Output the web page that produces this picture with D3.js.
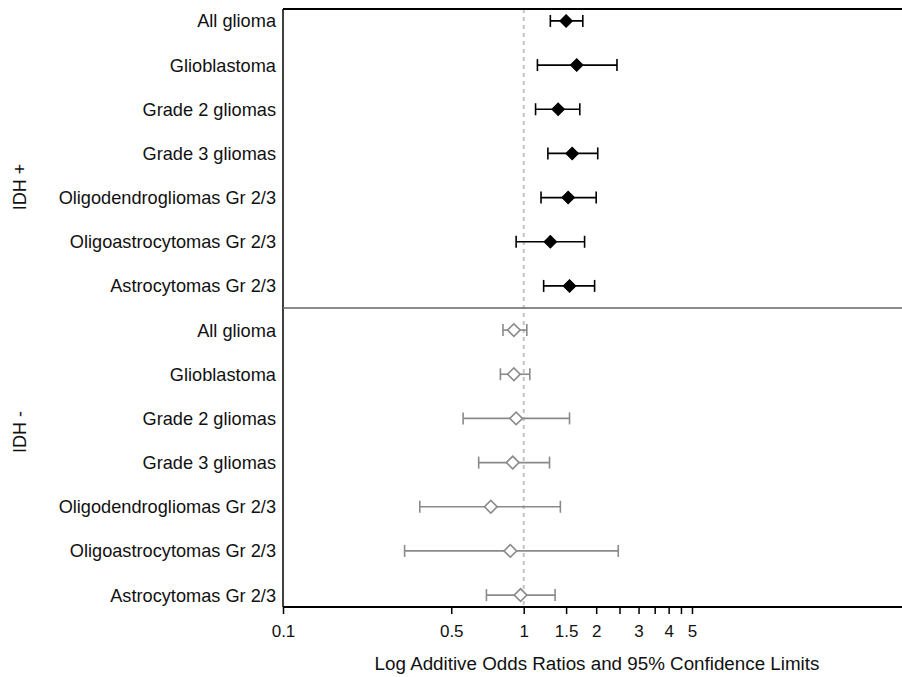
<!DOCTYPE html>
<html>
<head>
<meta charset="utf-8">
<script src="https://cdn.jsdelivr.net/npm/d3@7"></script>
<style>
  body { margin: 0; background: #fff; }
  svg { display: block; font-family: "Liberation Sans", Arial, sans-serif; }
</style>
</head>
<body>
<svg id="chart" width="902" height="677"></svg>
<script>
// Subtype labels, same order in both panels
const subtypes = ["All glioma", "Glioblastoma", "Grade 2 gliomas", "Grade 3 gliomas",
  "Oligodendrogliomas Gr 2/3", "Oligoastrocytomas Gr 2/3", "Astrocytomas Gr 2/3"];

// IDH mutated (+): odds ratio, lower and upper 95% limits
const idhPosOR    = [1.50, 1.66, 1.39, 1.59, 1.53, 1.29, 1.55];
const idhPosLower = [1.29, 1.14, 1.12, 1.26, 1.18, 0.93, 1.21];
const idhPosUpper = [1.76, 2.44, 1.71, 2.03, 2.00, 1.79, 1.97];

// IDH wild type (-)
const idhNegOR    = [0.91, 0.91, 0.93, 0.90, 0.73, 0.88, 0.97];
const idhNegLower = [0.82, 0.80, 0.56, 0.65, 0.37, 0.32, 0.70];
const idhNegUpper = [1.03, 1.06, 1.55, 1.28, 1.42, 2.47, 1.35];

const tickValues = [0.1, 0.5, 1, 1.5, 2, 2.5, 3, 3.5, 4, 4.5, 5];
const tickLabels = ["0.1", "0.5", "1", "1.5", "2", "", "3", "", "4", "", "5"];

const groups = [
  { key: "pos", label: "IDH +", or: idhPosOR, lo: idhPosLower, hi: idhPosUpper },
  { key: "neg", label: "IDH -", or: idhNegOR, lo: idhNegLower, hi: idhNegUpper }
];

const rows = [];
groups.forEach(g => {
  subtypes.forEach((s, i) => {
    rows.push({ id: g.key + i, group: g.key, label: s, or: g.or[i], lo: g.lo[i], hi: g.hi[i] });
  });
});

const plotLeft = 283, plotRight = 904, plotTop = 9, plotBottom = 607;

const svg = d3.select("#chart");

const x = d3.scaleLog()
  .domain([0.1, 38])
  .range([plotLeft, plotRight]);

const y = d3.scalePoint()
  .domain(rows.map(d => d.id))
  .range([plotTop, plotBottom])
  .padding(0.27);

// Reference line at OR = 1
svg.append("line")
  .attr("x1", x(1)).attr("x2", x(1))
  .attr("y1", plotTop).attr("y2", plotBottom)
  .attr("stroke", "#c4c4c4")
  .attr("stroke-width", 2)
  .attr("stroke-dasharray", "4,4");

// Frame
svg.append("line")
  .attr("x1", plotLeft).attr("x2", plotRight)
  .attr("y1", plotTop).attr("y2", plotTop)
  .attr("stroke", "#000").attr("stroke-width", 2);
svg.append("line")
  .attr("x1", plotLeft).attr("x2", plotLeft)
  .attr("y1", plotTop).attr("y2", plotBottom)
  .attr("stroke", "#000").attr("stroke-width", 1.5);

// Divider between panels
const divY = (y("pos6") + y("neg0")) / 2;
svg.append("line")
  .attr("x1", plotLeft).attr("x2", plotRight)
  .attr("y1", divY).attr("y2", divY)
  .attr("stroke", "#666").attr("stroke-width", 1.5);

// Bottom axis
const xAxis = svg.append("g")
  .attr("transform", `translate(0,${plotBottom})`)
  .call(d3.axisBottom(x)
    .tickValues(tickValues)
    .tickFormat((d, i) => tickLabels[i])
    .tickSize(7)
    .tickPadding(11));
xAxis.select(".domain").attr("stroke", "#000").attr("stroke-width", 2).attr("d", `M${plotLeft},0H${plotRight}`);
xAxis.selectAll(".tick line").attr("stroke", "#000").attr("stroke-width", 1.5);
xAxis.selectAll(".tick text")
  .attr("font-size", 17)
  .attr("font-family", "Liberation Sans, Arial, sans-serif")
  .attr("fill", "#111");

svg.append("text")
  .attr("x", (373 + 821) / 2)
  .attr("y", 670)
  .attr("text-anchor", "middle")
  .attr("font-size", 18.8)
  .attr("fill", "#111")
  .text("Log Additive Odds Ratios and 95% Confidence Limits");

// Row labels
svg.append("g").selectAll("text")
  .data(rows)
  .join("text")
  .attr("x", 276)
  .attr("y", d => y(d.id))
  .attr("dy", "0.36em")
  .attr("text-anchor", "end")
  .attr("font-size", 18.2)
  .attr("fill", "#111")
  .text(d => d.label);

// Panel labels
const panelY = { pos: 187, neg: 432 };
groups.forEach(g => {
  svg.append("text")
    .attr("transform", `translate(26,${panelY[g.key]}) rotate(-90)`)
    .attr("text-anchor", "middle")
    .attr("font-size", 18)
    .attr("fill", "#111")
    .text(g.label);
});

// Confidence intervals
const colorOf = d => d.group === "pos" ? "#000" : "#8a8a8a";
const cap = 6;
const ci = svg.append("g").selectAll("g")
  .data(rows)
  .join("g")
  .attr("stroke", colorOf)
  .attr("stroke-width", 1.6);
ci.append("line")
  .attr("x1", d => x(d.lo)).attr("x2", d => x(d.hi))
  .attr("y1", d => y(d.id)).attr("y2", d => y(d.id));
ci.append("line")
  .attr("x1", d => x(d.lo)).attr("x2", d => x(d.lo))
  .attr("y1", d => y(d.id) - cap).attr("y2", d => y(d.id) + cap);
ci.append("line")
  .attr("x1", d => x(d.hi)).attr("x2", d => x(d.hi))
  .attr("y1", d => y(d.id) - cap).attr("y2", d => y(d.id) + cap);

// Point estimates as diamonds
const diamond = d3.symbol().type(d3.symbolSquare).size(80);
svg.append("g").selectAll("path")
  .data(rows)
  .join("path")
  .attr("d", diamond)
  .attr("transform", d => `translate(${x(d.or)},${y(d.id)}) rotate(45)`)
  .attr("fill", d => d.group === "pos" ? "#000" : "#fff")
  .attr("stroke", colorOf)
  .attr("stroke-width", d => d.group === "pos" ? 1 : 1.6);
</script>
</body>
</html>
